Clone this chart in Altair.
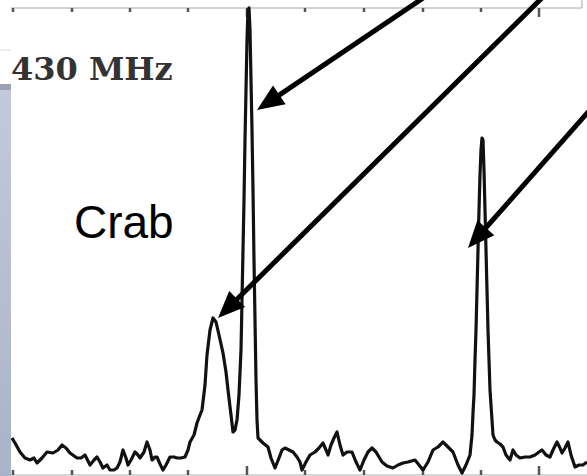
import math
import altair as alt
import pandas as pd

# ---- profile of the Crab pulsar at 430 MHz (phase bin, intensity) ----
phase_bin = [12, 15, 20, 25, 30, 34, 37, 42, 47, 53, 58, 62, 66, 70, 77, 81, 85, 90, 94, 97,
             100, 103, 107, 110, 114, 117, 120, 123, 126, 128, 131, 135, 138, 140, 144, 147, 150,
             152, 155, 157, 160, 163, 166, 170, 174, 177, 181, 185, 188, 190, 194, 197, 200, 202,
             205, 207, 210, 213, 216, 219, 223, 226, 228, 231, 233, 235, 237, 239, 241, 242, 243,
             244, 245, 246, 247, 248, 249, 250, 251, 252, 253, 254, 255, 256, 257, 258, 260, 263,
             268, 271, 275, 279, 282, 285, 289, 293, 297, 300, 302, 306, 310, 315, 319, 323, 326,
             328, 331, 334, 337, 340, 343, 347, 352, 356, 360, 364, 368, 372, 376, 379, 382, 387,
             393, 398, 403, 408, 415, 419, 423, 428, 433, 438, 443, 448, 453, 458, 462, 466, 470,
             472, 473, 474, 475, 476, 477, 478, 479, 480, 481, 482, 483, 484, 485, 486, 487, 488,
             489, 490, 492, 493, 495, 497, 500, 503, 506, 510, 513, 516, 520, 525, 530, 535, 539,
             542, 546, 550, 553, 557, 560, 562, 565, 568, 571, 575, 579, 583, 587]
intensity = [38, 33, 24, 18, 16, 18, 13, 18, 24, 23, 26, 31, 28, 23, 18, 18, 21, 11, 16, 19,
             14, 8, 11, 6, 6, 8, 14, 26, 18, 11, 16, 24, 21, 18, 24, 34, 26,
             16, 19, 19, 12, 6, 11, 19, 19, 18, 18, 19, 26, 34, 41, 53, 61, 66,
             91, 121, 146, 158, 154, 141, 123, 104, 86, 61, 44, 46, 56, 81, 126, 176, 226,
             276, 336, 386, 436, 466, 468, 446, 396, 346, 286, 216, 156, 96, 56, 38, 36, 33,
             29, 18, 8, 18, 26, 28, 26, 24, 19, 14, 6, 14, 21, 24, 28, 33, 26,
             21, 31, 38, 44, 31, 21, 24, 24, 14, 6, 16, 24, 28, 24, 19, 14, 10,
             8, 11, 13, 14, 16, 11, 6, 14, 26, 29, 34, 29, 24, 11, 3, 11, 21,
             41, 63, 81, 116, 146, 186, 226, 266, 301, 326, 338, 336, 306, 266, 226, 186, 146,
             116, 86, 56, 41, 36, 34, 32, 29, 21, 16, 26, 21, 18, 19, 19, 21, 24,
             26, 21, 19, 26, 34, 28, 23, 28, 34, 21, 9, 11, 11, 14]

# ---- axis ticks (phase bins) ----
minor_ticks = [13, 72, 130, 188, 305, 364, 423, 481]
major_ticks = [247, 539]

# ---- annotation arrows (start -> tip, in phase bin / intensity units) ----
arrow_start_x = [435, 550, 597]
arrow_start_i = [486, 486, 374]
arrow_tip_x = [257, 218, 468]
arrow_tip_i = [366, 158, 228]

label_band = "430 MHz"
label_src = "Crab"

W, H = 587, 476

prof = pd.DataFrame({"bin": phase_bin, "I": intensity})
minor_df = pd.DataFrame({"bin": minor_ticks})
major_df = pd.DataFrame({"bin": major_ticks})

rows = []
for sx, si, tx, ti in zip(arrow_start_x, arrow_start_i, arrow_tip_x, arrow_tip_i):
    dx, di = tx - sx, ti - si
    L = math.hypot(dx, di)
    ang = math.degrees(math.atan2(dx, di)) % 360
    rows.append({"sx": sx, "si": si, "ex": tx - 16 * dx / L, "ei": ti - 16 * di / L,
                 "tx": tx, "ti": ti, "angle": ang})
arrows = pd.DataFrame(rows)

xs = alt.Scale(domain=[0, W], range=[0, W], nice=False, zero=False)
ys = alt.Scale(domain=[0, H], range=[H, 0], nice=False, zero=False)

one = pd.DataFrame({"a": [0]})

frame_top = alt.Chart(one).mark_rule(color="#c4c4c4", strokeWidth=1.5).encode(
    x=alt.value(11), x2=alt.value(582), y=alt.value(8))
frame_corner = alt.Chart(one).mark_rule(color="#c4c4c4", strokeWidth=1.5).encode(
    x=alt.value(582), y=alt.value(0), y2=alt.value(8))
frame_bottom = alt.Chart(one).mark_rule(color="#c8c8c8", strokeWidth=1.5).encode(
    x=alt.value(11), x2=alt.value(587), y=alt.value(475))


def tick_layer(df, y0, y1):
    return alt.Chart(df).mark_rule(color="#555555", strokeWidth=2.5).encode(
        x=alt.X("bin:Q", scale=xs, axis=None), y=alt.value(y0), y2=alt.value(y1))


top_minor = tick_layer(minor_df, 8, 12)
top_major = tick_layer(major_df, 8, 17)
bot_minor = tick_layer(minor_df, 475, 470)
bot_major = tick_layer(major_df, 475, 466)

profile = alt.Chart(prof).mark_line(color="#111111", strokeWidth=3.2, strokeJoin="round",
                                     clip=True).encode(
    x=alt.X("bin:Q", scale=xs, axis=None),
    y=alt.Y("I:Q", scale=ys, axis=None))

shafts = alt.Chart(arrows).mark_rule(color="black", strokeWidth=5, clip=True).encode(
    x=alt.X("sx:Q", scale=xs, axis=None), y=alt.Y("si:Q", scale=ys, axis=None),
    x2="ex:Q", y2="ei:Q")
heads = alt.Chart(arrows).mark_point(shape="M0,0L-0.42,1L0.42,1Z", filled=True, color="black",
                                     opacity=1, size=2900, strokeWidth=0).encode(
    x=alt.X("tx:Q", scale=xs, axis=None), y=alt.Y("ti:Q", scale=ys, axis=None),
    angle=alt.Angle("angle:Q", scale=None))

txt_band = alt.Chart(one).mark_text(text=label_band, font="DejaVu Serif", fontWeight="bold",
                                    fontSize=32, color="#333333", align="left",
                                    baseline="alphabetic").encode(
    x=alt.value(11), y=alt.value(80))
txt_src = alt.Chart(one).mark_text(text=label_src, font="Liberation Sans", fontSize=46,
                                   color="black", align="left", baseline="alphabetic").encode(
    x=alt.value(74), y=alt.value(238))

strip = alt.Chart(one).mark_rect(
    color=alt.Gradient(gradient="linear", x1=0, x2=0, y1=0, y2=1,
                       stops=[alt.GradientStop(color="#c3c9d8", offset=0),
                              alt.GradientStop(color="#aab3c7", offset=1)])).encode(
    x=alt.value(0), x2=alt.value(11), y=alt.value(88), y2=alt.value(476))
strip_top = alt.Chart(one).mark_rect(color="#9aa2b4").encode(
    x=alt.value(0), x2=alt.value(11), y=alt.value(84), y2=alt.value(90))
strip_line = alt.Chart(one).mark_rule(color="#dddddd", strokeWidth=1).encode(
    x=alt.value(0), x2=alt.value(11), y=alt.value(50))

chart = alt.layer(
    frame_top, frame_corner, frame_bottom, top_minor, top_major, bot_minor, bot_major,
    profile, shafts, heads, txt_band, txt_src, strip, strip_top, strip_line
).properties(width=W, height=H, padding=0, autosize=alt.AutoSizeParams(type="none"),
             background="white").configure_view(stroke=None)

chart.save("out.html", embed_options={"renderer": "svg", "actions": False})
